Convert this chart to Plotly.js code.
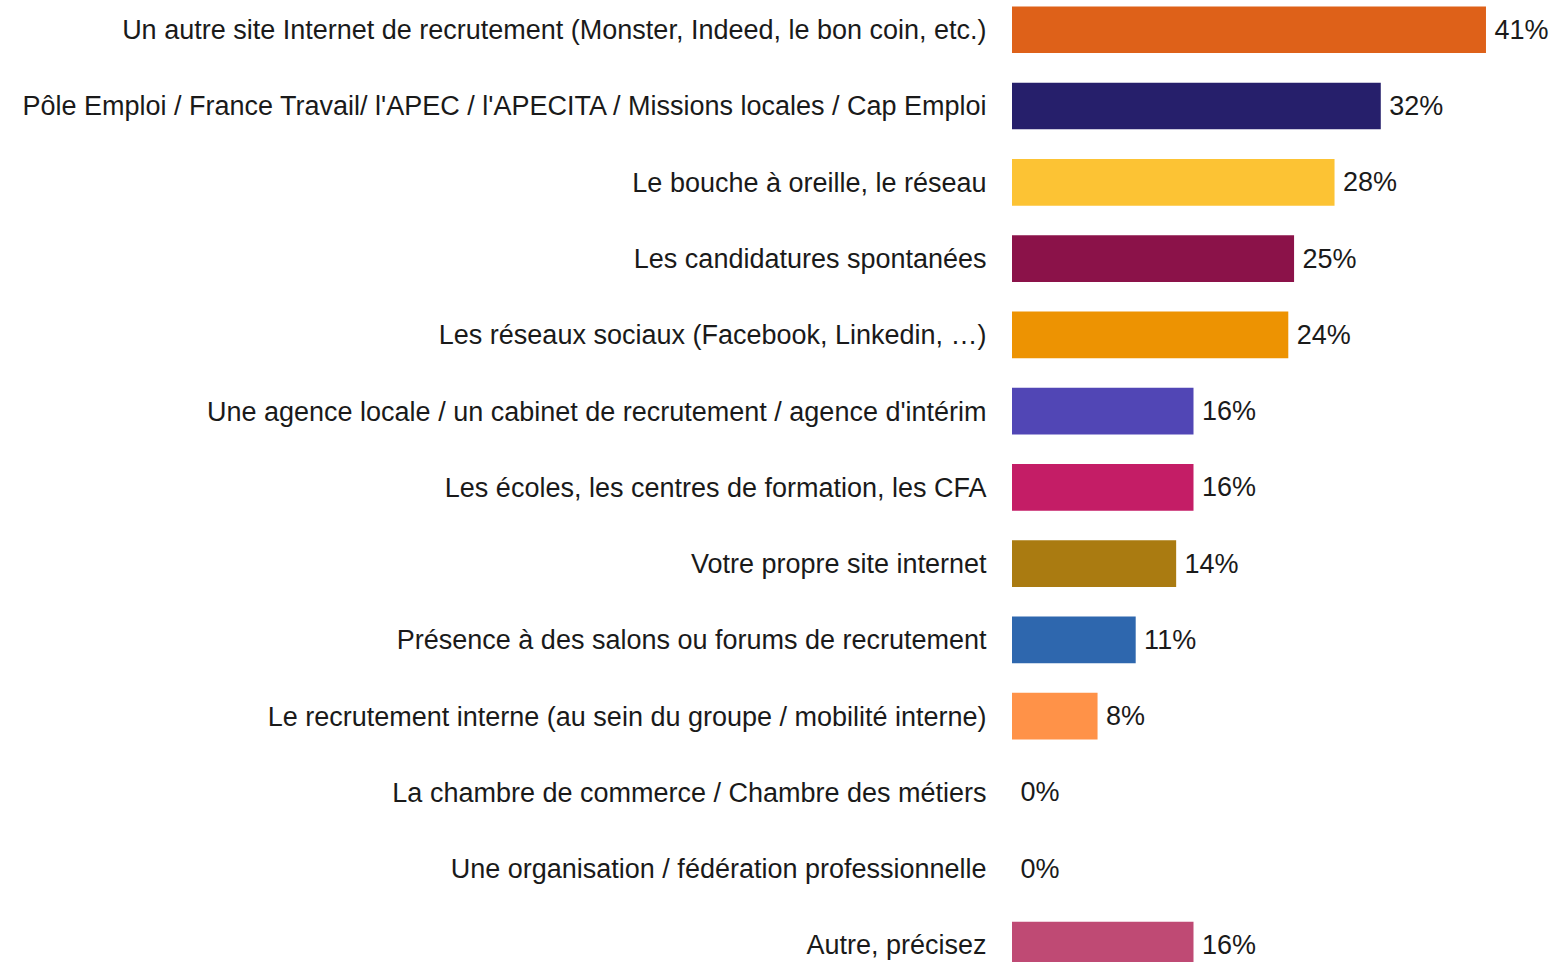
<!DOCTYPE html>
<html>
<head>
<meta charset="utf-8">
<script src="https://cdn.plot.ly/plotly-3.0.1.min.js"></script>
<style>
html,body{margin:0;padding:0;background:#fff;overflow:hidden;}
#chart{width:1558px;height:962px;}
</style>
</head>
<body>
<div id="chart"></div>
<script>
const categories = [
  "Un autre site Internet de recrutement (Monster, Indeed, le bon coin, etc.)",
  "Pôle Emploi / France Travail/ l'APEC / l'APECITA / Missions locales / Cap Emploi",
  "Le bouche à oreille, le réseau",
  "Les candidatures spontanées",
  "Les réseaux sociaux (Facebook, Linkedin, …)",
  "Une agence locale / un cabinet de recrutement / agence d'intérim",
  "Les écoles, les centres de formation, les CFA",
  "Votre propre site internet",
  "Présence à des salons ou forums de recrutement",
  "Le recrutement interne (au sein du groupe / mobilité interne)",
  "La chambre de commerce / Chambre des métiers",
  "Une organisation / fédération professionnelle",
  "Autre, précisez"
];
const values = [41.0, 31.9, 27.9, 24.4, 23.9, 15.7, 15.7, 14.2, 10.7, 7.4, 0, 0, 15.7];
const labels = ["41%", "32%", "28%", "25%", "24%", "16%", "16%", "14%", "11%", "8%", "0%", "0%", "16%"];
const colors = ["#DE6119", "#261F6B", "#FCC334", "#8B1249", "#ED9302", "#5146B5", "#C41D66",
                "#AA7B11", "#2E67AE", "#FF9248", "#888888", "#888888", "#BF4A74"];

const trace = {
  type: "bar",
  orientation: "h",
  y: categories,
  x: values,
  text: labels.map(t => "\u2009" + t),
  textposition: "outside",
  cliponaxis: false,
  textfont: {family: "Liberation Sans, Arial, sans-serif", size: 27, color: "#1a1a1a"},
  marker: {color: colors, line: {width: 0}},
  width: 0.612,
  hoverinfo: "none"
};

const layout = {
  width: 1558,
  height: 962,
  margin: {l: 1012, r: 0, t: 0, b: 0, pad: 0},
  paper_bgcolor: "#ffffff",
  plot_bgcolor: "#ffffff",
  showlegend: false,
  font: {family: "Liberation Sans, Arial, sans-serif", size: 27, color: "#1a1a1a"},
  xaxis: {
    range: [0, 47.23],
    visible: false,
    showgrid: false,
    zeroline: false,
    fixedrange: true
  },
  yaxis: {
    type: "category",
    categoryorder: "array",
    categoryarray: categories,
    range: [12.223, -0.39],
    showgrid: false,
    zeroline: false,
    showline: false,
    ticks: "outside",
    ticklen: 19,
    tickcolor: "rgba(0,0,0,0)",
    tickfont: {family: "Liberation Sans, Arial, sans-serif", size: 27, color: "#1a1a1a"},
    automargin: false,
    fixedrange: true
  }
};

Plotly.newPlot("chart", [trace], layout, {displayModeBar: false, staticPlot: true});
</script>
</body>
</html>
